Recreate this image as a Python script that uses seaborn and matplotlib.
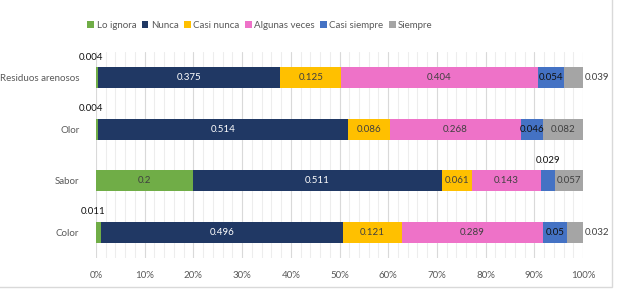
import numpy as np
import pandas as pd
import matplotlib
matplotlib.use("Agg")
import matplotlib.pyplot as plt
import seaborn as sns
from matplotlib.patches import Rectangle
from matplotlib.ticker import MultipleLocator, PercentFormatter

categories = ["Residuos arenosos", "Olor", "Sabor", "Color"]
series = ["Lo ignora", "Nunca", "Casi nunca", "Algunas veces", "Casi siempre", "Siempre"]
lo_ignora = [0.004, 0.004, 0.2, 0.011]
nunca = [0.375, 0.514, 0.511, 0.496]
casi_nunca = [0.125, 0.086, 0.061, 0.121]
algunas_veces = [0.404, 0.268, 0.143, 0.289]
casi_siempre = [0.054, 0.046, 0.029, 0.05]
siempre = [0.039, 0.082, 0.057, 0.032]
colors = ["#70AD47", "#203864", "#FFC000", "#EE72C8", "#4472C4", "#A5A5A5"]

sns.set_theme(style="white")
plt.rcParams["font.family"] = ["Lato", "DejaVu Sans"]
FS = 7

vals = np.array([lo_ignora, nunca, casi_nunca, algunas_veces, casi_siempre, siempre])
norm = vals / vals.sum(axis=0)
cum = np.cumsum(norm, axis=0)

fig = plt.figure(figsize=(6.17, 2.92), dpi=100)
ax = fig.add_axes([96 / 617, 34 / 292, 487 / 617, 206 / 292])

for i in range(len(series) - 1, -1, -1):
    df = pd.DataFrame({"cat": categories, "val": cum[i]})
    sns.barplot(data=df, y="cat", x="val", order=categories, color=colors[i],
                orient="h", width=0.4, ax=ax, saturation=1, label=series[i],
                edgecolor="none", linewidth=0, zorder=3)

handles, labels = ax.get_legend_handles_labels()
if ax.get_legend() is not None:
    ax.get_legend().remove()

ax.set_xlim(0, 1)
ax.set_ylim(3.5, -0.5)
ax.xaxis.set_major_locator(MultipleLocator(0.1))
ax.xaxis.set_minor_locator(MultipleLocator(0.02))
ax.xaxis.set_major_formatter(PercentFormatter(1.0, decimals=0))
ax.grid(which="major", axis="x", color="#D9D9D9", linewidth=0.8, zorder=0)
ax.grid(which="minor", axis="x", color="#EDEDED", linewidth=0.8, zorder=0)
ax.set_axisbelow(True)
for s in ax.spines.values():
    s.set_visible(False)
ax.set_xlabel("")
ax.set_ylabel("")
ax.tick_params(axis="x", which="both", length=0, labelsize=FS, colors="#595959", pad=9)
ax.tick_params(axis="y", length=0, labelsize=FS, colors="#595959", pad=12)

text_colors = ["#404040", "white", "#404040", "#404040", "#111111", "#404040"]
for j, cat in enumerate(categories):
    for i in range(len(series)):
        v = vals[i, j]
        w = norm[i, j]
        start = cum[i, j] - w
        center = start + w / 2
        label = f"{v:g}"
        if i < 5 and w < 0.035:
            ax.text(center - (0.012 if i == 0 else 0), j - 0.4, label,
                    ha="center", va="center", fontsize=FS, color="#111111")
        elif i == 5 and w < 0.045:
            ax.text(1.003, j, label, ha="left", va="center",
                    fontsize=FS, color="#404040", clip_on=False)
        else:
            ax.text(center, j, label, ha="center", va="center",
                    fontsize=FS, color=text_colors[i])

order = [labels.index(s) for s in series]
fig.legend([handles[k] for k in order], [labels[k] for k in order],
           loc="center", bbox_to_anchor=(260 / 617, 1 - 25 / 292), ncol=6,
           frameon=False, fontsize=FS, handlelength=0.7, handleheight=0.7,
           handletextpad=0.25, columnspacing=0.55, labelcolor="#595959")

fig.patches.append(Rectangle((-0.01, 5 / 292), 612 / 617 + 0.01, 1.0,
                             transform=fig.transFigure, fill=False,
                             edgecolor="#D9D9D9", linewidth=1))

fig.savefig("out.png", dpi=100)
